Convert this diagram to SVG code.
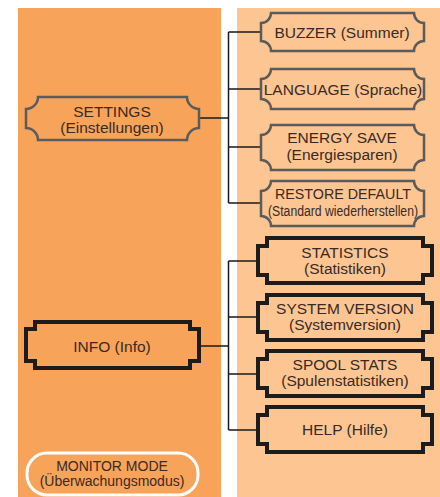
<svg xmlns="http://www.w3.org/2000/svg" width="440" height="497" viewBox="0 0 440 497">
<style>
.t{font-family:"Liberation Sans",Arial,Helvetica,sans-serif;font-size:15.5px;fill:#3a2a22;text-anchor:middle}
.m{font-size:14px}
.s{stroke:#5b5b5b;stroke-width:2.5;stroke-linejoin:miter}
.k{stroke:#1c1c1c;stroke-width:4;stroke-linejoin:miter}
.o{fill:#F7A35A}
.p{fill:#FCC592}
.c{fill:none;stroke:#1a1a1a;stroke-width:1.5}
</style>
<rect width="440" height="497" fill="#ffffff"/>
<rect x="18" y="8" width="203" height="489" class="o"/>
<rect x="237" y="8" width="203" height="489" class="p"/>
<g id="connectors">
<path class="c" d="M199,118 H228.5 M228.5,32 V203 M228.5,32 H260 M228.5,89 H260 M228.5,147 H260 M228.5,203 H260"/>
<path class="c" d="M199,346 H228.5 M228.5,261 V430 M228.5,261 H258 M228.5,317 H258 M228.5,374 H258 M228.5,430 H258"/>
</g>
<g id="settings">
<path class="s o" d="M38,97 H187 A12,12 0 0 0 199,109 V128 A12,12 0 0 0 187,140 H38 A12,12 0 0 0 26,128 V109 A12,12 0 0 0 38,97 Z"/>
<text class="t" x="112" y="117">SETTINGS</text>
<text class="t" x="112" y="133">(Einstellungen)</text>
</g>
<g id="buzzer">
<path class="s p" d="M271,13 H414 A10,10 0 0 0 424,23 V41 A10,10 0 0 0 414,51 H271 A10,10 0 0 0 261,41 V23 A10,10 0 0 0 271,13 Z"/>
<text class="t" x="342" y="38">BUZZER (Summer)</text>
</g>
<g id="language">
<path class="s p" d="M271,69 H414 A10,10 0 0 0 424,79 V99 A10,10 0 0 0 414,109 H271 A10,10 0 0 0 261,99 V79 A10,10 0 0 0 271,69 Z"/>
<text class="t" x="343" y="95">LANGUAGE (Sprache)</text>
</g>
<g id="energy">
<path class="s p" d="M271,125 H414 A10,10 0 0 0 424,135 V160 A10,10 0 0 0 414,170 H271 A10,10 0 0 0 261,160 V135 A10,10 0 0 0 271,125 Z"/>
<text class="t" x="342" y="143">ENERGY SAVE</text>
<text class="t" x="342" y="160">(Energiesparen)</text>
</g>
<g id="restore">
<path class="s p" d="M271,181 H414 A10,10 0 0 0 424,191 V216 A10,10 0 0 0 414,226 H271 A10,10 0 0 0 261,216 V191 A10,10 0 0 0 271,181 Z"/>
<text class="t" x="343" y="199" font-size="14.5" textLength="136" lengthAdjust="spacingAndGlyphs">RESTORE DEFAULT</text>
<text class="t" x="343" y="216" font-size="14" textLength="150" lengthAdjust="spacingAndGlyphs">(Standard wiederherstellen)</text>
</g>
<g id="info">
<path class="k o" d="M35,322 H190 V329 H199 V361 H190 V368 H35 V361 H26 V329 H35 Z"/>
<text class="t" x="112" y="352">INFO (Info)</text>
</g>
<g id="statistics">
<path class="k p" d="M267,238 H423 V246 H432 V275 H423 V283 H267 V275 H258 V246 H267 Z"/>
<text class="t" x="345" y="258">STATISTICS</text>
<text class="t" x="345" y="274">(Statistiken)</text>
</g>
<g id="sysver">
<path class="k p" d="M267,295 H423 V303 H432 V332 H423 V340 H267 V332 H258 V303 H267 Z"/>
<text class="t" x="345" y="314">SYSTEM VERSION</text>
<text class="t" x="345" y="330">(Systemversion)</text>
</g>
<g id="spool">
<path class="k p" d="M267,351 H423 V359 H432 V388 H423 V396 H267 V388 H258 V359 H267 Z"/>
<text class="t" x="345" y="370">SPOOL STATS</text>
<text class="t" x="345" y="386">(Spulenstatistiken)</text>
</g>
<g id="help">
<path class="k p" d="M267,407 H423 V415 H432 V444 H423 V452 H267 V444 H258 V415 H267 Z"/>
<text class="t" x="345" y="435">HELP (Hilfe)</text>
</g>
<g id="monitor">
<rect x="27" y="453" width="171" height="42" rx="20" ry="20" class="o" stroke="#ffffff" stroke-width="3"/>
<text class="t m" x="112" y="471">MONITOR MODE</text>
<text class="t m" x="112" y="486">(Überwachungsmodus)</text>
</g>
</svg>
